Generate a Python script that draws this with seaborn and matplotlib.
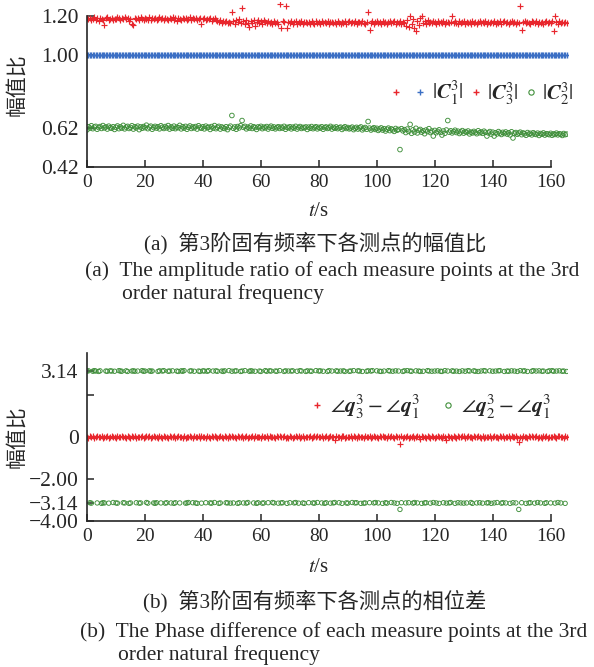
import numpy as np
import pandas as pd
import seaborn as sns
import matplotlib.pyplot as plt
from matplotlib.lines import Line2D

# sample times (s), one sample every 0.5 s
t_s = np.arange(0, 166, 0.5)

# amplitude ratio |C3^3| (red)
c3_ratio = [
    1.188, 1.182, 1.192, 1.179, 1.186, 1.195, 1.181, 1.189, 1.176, 1.191, 1.184, 1.178, 1.152, 1.187, 1.193, 1.180, 1.185, 1.190, 1.177, 1.186,
    1.183, 1.194, 1.188, 1.179, 1.191, 1.185, 1.197, 1.182, 1.189, 1.176, 1.186, 1.157, 1.154, 1.192, 1.183, 1.188, 1.180, 1.195, 1.184, 1.178,
    1.190, 1.186, 1.181, 1.193, 1.177, 1.188, 1.184, 1.191, 1.179, 1.186, 1.196, 1.182, 1.187, 1.180, 1.192, 1.185, 1.178, 1.189, 1.183, 1.194,
    1.181, 1.187, 1.176, 1.190, 1.185, 1.179, 1.192, 1.184, 1.188, 1.177, 1.186, 1.193, 1.180, 1.187, 1.182, 1.190, 1.178, 1.185, 1.189, 1.160,
    1.184, 1.191, 1.179, 1.186, 1.182, 1.188, 1.176, 1.183, 1.190, 1.180, 1.174, 1.169, 1.178, 1.165, 1.172, 1.168, 1.176, 1.163, 1.171, 1.166,
    1.220, 1.174, 1.160, 1.178, 1.168, 1.182, 1.165, 1.240, 1.172, 1.158, 1.180, 1.166, 1.145, 1.175, 1.162, 1.178, 1.150, 1.170, 1.181, 1.164,
    1.173, 1.160, 1.177, 1.168, 1.162, 1.175, 1.166, 1.171, 1.159, 1.176, 1.165, 1.170, 1.161, 1.260, 1.140, 1.173, 1.167, 1.250, 1.140, 1.169,
    1.163, 1.174, 1.158, 1.168, 1.172, 1.161, 1.170, 1.165, 1.176, 1.160, 1.167, 1.171, 1.163, 1.169, 1.158, 1.174, 1.166, 1.161, 1.172, 1.164,
    1.168, 1.159, 1.173, 1.165, 1.170, 1.162, 1.175, 1.160, 1.167, 1.171, 1.163, 1.169, 1.158, 1.174, 1.166, 1.161, 1.170, 1.164, 1.172, 1.160,
    1.167, 1.173, 1.162, 1.169, 1.165, 1.176, 1.159, 1.168, 1.171, 1.163, 1.174, 1.166, 1.160, 1.170, 1.220, 1.130, 1.165, 1.172, 1.161, 1.168,
    1.175, 1.163, 1.169, 1.158, 1.173, 1.166, 1.171, 1.160, 1.168, 1.174, 1.162, 1.167, 1.172, 1.159, 1.170, 1.165, 1.176, 1.161, 1.169, 1.164,
    1.150, 1.178, 1.145, 1.200, 1.160, 1.182, 1.140, 1.120, 1.175, 1.155, 1.188, 1.200, 1.165, 1.172, 1.158, 1.180, 1.166, 1.171, 1.162, 1.174,
    1.168, 1.160, 1.173, 1.165, 1.170, 1.163, 1.176, 1.159, 1.167, 1.171, 1.164, 1.169, 1.200, 1.162, 1.174, 1.166, 1.160, 1.172, 1.165, 1.168,
    1.175, 1.161, 1.170, 1.164, 1.168, 1.158, 1.173, 1.166, 1.171, 1.160, 1.167, 1.174, 1.162, 1.169, 1.165, 1.172, 1.159, 1.168, 1.163, 1.170,
    1.166, 1.173, 1.160, 1.169, 1.164, 1.175, 1.161, 1.168, 1.172, 1.163, 1.170, 1.158, 1.167, 1.174, 1.165, 1.169, 1.160, 1.171, 1.166, 1.250,
    1.125, 1.168, 1.173, 1.162, 1.170, 1.165, 1.159, 1.172, 1.167, 1.163, 1.174, 1.160, 1.169, 1.166, 1.171, 1.161, 1.168, 1.175, 1.163, 1.170,
    1.165, 1.172, 1.120, 1.200, 1.168, 1.161, 1.173, 1.166, 1.170, 1.162, 1.169, 1.165,
]

# amplitude ratio |C2^3| (green)
c2_ratio = [
    0.612, 0.628, 0.621, 0.633, 0.618, 0.626, 0.630, 0.615, 0.624, 0.629, 0.619, 0.634, 0.622, 0.627, 0.616, 0.631, 0.623, 0.620, 0.628, 0.614,
    0.625, 0.632, 0.618, 0.627, 0.621, 0.635, 0.617, 0.626, 0.630, 0.619, 0.624, 0.633, 0.616, 0.628, 0.622, 0.631, 0.613, 0.627, 0.620, 0.629,
    0.623, 0.636, 0.618, 0.626, 0.631, 0.615, 0.624, 0.630, 0.621, 0.628, 0.617, 0.633, 0.625, 0.619, 0.629, 0.622, 0.634, 0.616, 0.627, 0.620,
    0.631, 0.618, 0.626, 0.623, 0.635, 0.617, 0.628, 0.621, 0.630, 0.615, 0.625, 0.632, 0.619, 0.627, 0.622, 0.629, 0.616, 0.633, 0.624, 0.620,
    0.628, 0.617, 0.631, 0.623, 0.626, 0.614, 0.629, 0.621, 0.634, 0.618, 0.625, 0.630, 0.616, 0.627, 0.622, 0.619, 0.628, 0.613, 0.624, 0.631,
    0.686, 0.620, 0.627, 0.615, 0.629, 0.622, 0.633, 0.660, 0.625, 0.630, 0.617, 0.626, 0.621, 0.632, 0.619, 0.628, 0.624, 0.614, 0.627, 0.623,
    0.630, 0.618, 0.626, 0.622, 0.629, 0.616, 0.625, 0.631, 0.620, 0.627, 0.617, 0.624, 0.628, 0.619, 0.626, 0.621, 0.630, 0.615, 0.625, 0.622,
    0.628, 0.617, 0.626, 0.621, 0.630, 0.616, 0.624, 0.629, 0.619, 0.625, 0.622, 0.627, 0.614, 0.626, 0.620, 0.629, 0.618, 0.624, 0.628, 0.617,
    0.625, 0.621, 0.628, 0.615, 0.624, 0.627, 0.619, 0.623, 0.630, 0.616, 0.625, 0.620, 0.627, 0.618, 0.623, 0.626, 0.614, 0.622, 0.628, 0.619,
    0.624, 0.617, 0.621, 0.626, 0.613, 0.620, 0.625, 0.616, 0.622, 0.627, 0.612, 0.619, 0.624, 0.615, 0.655, 0.621, 0.611, 0.618, 0.623, 0.614,
    0.620, 0.609, 0.616, 0.622, 0.611, 0.618, 0.606, 0.615, 0.621, 0.608, 0.617, 0.612, 0.604, 0.619, 0.610, 0.614, 0.510, 0.618, 0.607, 0.613,
    0.598, 0.616, 0.604, 0.640, 0.594, 0.612, 0.601, 0.620, 0.596, 0.609, 0.614, 0.600, 0.607, 0.592, 0.611, 0.603, 0.618, 0.598, 0.606, 0.580,
    0.609, 0.597, 0.604, 0.612, 0.599, 0.585, 0.606, 0.594, 0.611, 0.660, 0.600, 0.607, 0.596, 0.603, 0.610, 0.598, 0.605, 0.593, 0.601, 0.608,
    0.595, 0.603, 0.599, 0.606, 0.591, 0.600, 0.596, 0.604, 0.598, 0.592, 0.607, 0.597, 0.601, 0.594, 0.605, 0.599, 0.580, 0.596, 0.603, 0.590,
    0.600, 0.580, 0.597, 0.591, 0.603, 0.595, 0.588, 0.599, 0.593, 0.601, 0.590, 0.597, 0.586, 0.602, 0.570, 0.594, 0.598, 0.589, 0.595, 0.600,
    0.587, 0.596, 0.592, 0.584, 0.598, 0.590, 0.594, 0.586, 0.597, 0.591, 0.588, 0.595, 0.583, 0.593, 0.589, 0.596, 0.585, 0.592, 0.590, 0.587,
    0.594, 0.584, 0.591, 0.588, 0.595, 0.586, 0.592, 0.589, 0.583, 0.593, 0.587, 0.590,
]

# |C1^3| is the reference point, ratio 1.00 throughout
c1_ratio = [1.00] * len(t_s)

# phase difference angle(q3) - angle(q1) (red)
phase_31 = [
    0.02, -0.03, 0.05, -0.01, 0.03, -0.04, 0.01, 0.04, -0.02, 0.00, 0.03, -0.05, 0.02, -0.01, 0.04, -0.03, 0.01, 0.05, -0.02, 0.02,
    -0.04, 0.03, 0.00, -0.02, 0.05, -0.01, 0.02, -0.05, 0.04, 0.01, -0.03, 0.03, -0.01, 0.05, -0.04, 0.02, 0.00, -0.02, 0.04, -0.03,
    0.01, 0.05, -0.02, 0.03, -0.05, 0.02, 0.04, -0.01, 0.00, -0.04, 0.03, 0.01, -0.03, 0.05, -0.02, 0.02, -0.05, 0.04, 0.00, -0.01,
    0.03, -0.04, 0.02, 0.05, -0.02, 0.01, -0.03, 0.04, -0.05, 0.02, 0.00, 0.03, -0.01, -0.04, 0.05, 0.01, -0.02, 0.03, -0.03, 0.04,
    -0.01, 0.02, -0.05, 0.04, 0.01, -0.03, 0.05, -0.02, 0.03, 0.00, -0.04, 0.02, 0.04, -0.01, -0.03, 0.05, 0.01, -0.05, 0.03, -0.02,
    0.04, -0.01, 0.02, -0.04, 0.05, 0.00, -0.02, 0.03, -0.05, 0.01, 0.04, -0.03, 0.02, -0.01, 0.05, -0.04, 0.03, 0.00, -0.02, 0.01,
    -0.03, 0.05, 0.01, -0.02, 0.03, -0.05, 0.04, 0.00, -0.01, 0.02, -0.04, 0.03, -0.01, 0.05, -0.02, 0.01, 0.04, -0.03, 0.02, -0.05,
    0.03, 0.00, -0.04, 0.02, 0.05, -0.01, 0.03, -0.03, 0.01, 0.04, -0.05, 0.02, 0.00, -0.02, 0.04, -0.04, 0.01, 0.03, -0.01, 0.05,
    -0.02, 0.02, 0.04, -0.05, 0.01, 0.03, -0.03, 0.00, 0.05, -0.01, 0.02, -0.12, 0.04, -0.02, 0.01, -0.04, 0.03, 0.05, -0.03, 0.00,
    0.02, -0.01, 0.04, -0.04, 0.03, 0.01, -0.05, 0.05, -0.02, 0.02, 0.00, -0.03, 0.04, 0.01, -0.01, 0.03, -0.05, 0.02, 0.05, -0.02,
    0.01, -0.04, 0.03, 0.00, 0.05, -0.02, 0.02, -0.05, 0.04, -0.01, 0.03, 0.01, -0.03, 0.05, -0.02, 0.00, -0.33, 0.04, -0.04, 0.02,
    -0.01, 0.05, -0.03, 0.02, 0.00, 0.04, -0.05, 0.01, 0.03, -0.02, -0.09, 0.04, -0.01, 0.02, -0.04, 0.05, 0.00, -0.03, 0.03, 0.01,
    -0.05, 0.02, 0.04, -0.02, 0.01, -0.04, 0.05, 0.00, -0.13, 0.03, -0.01, 0.02, -0.03, 0.04, 0.01, -0.05, 0.05, -0.02, 0.00, 0.03,
    0.04, -0.03, 0.01, 0.05, -0.01, 0.02, -0.04, 0.03, 0.00, -0.02, 0.05, 0.01, -0.05, 0.04, -0.03, 0.02, 0.00, -0.01, 0.03, -0.04,
    0.02, 0.05, -0.02, 0.01, -0.04, 0.03, 0.00, 0.04, -0.05, 0.02, -0.01, 0.03, -0.03, 0.05, 0.01, -0.02, 0.04, -0.04, -0.22, 0.01,
    -0.03, 0.04, 0.00, 0.02, -0.05, 0.05, -0.01, 0.03, -0.02, 0.01, 0.04, -0.04, 0.02, 0.00, -0.03, 0.05, -0.01, 0.03, -0.05, 0.02,
    0.01, -0.02, 0.04, 0.00, -0.04, 0.03, 0.05, -0.01, 0.02, -0.03, 0.04, 0.00,
]

# phase difference angle(q2) - angle(q1) (green), wraps around +-pi
phase_21 = [
    3.14, 3.15, -3.13, -3.15, 3.13, 3.16, 3.14, -3.14, 3.12, 3.15, -3.16, -3.13, -3.14, 3.14, 3.13, -3.15, 3.15, 3.14, -3.12, 3.13,
    -3.14, -3.15, 3.16, 3.14, 3.13, -3.13, -3.14, 3.15, 3.12, -3.16, -3.14, 3.14, 3.15, 3.13, -3.13, 3.14, -3.15, -3.14, 3.16, 3.13,
    3.14, -3.12, -3.15, 3.15, 3.13, 3.14, -3.14, -3.16, -3.13, 3.12, 3.15, -3.14, 3.14, 3.16, -3.15, -3.13, 3.13, 3.14, -3.14, 3.15,
    -3.16, -3.13, 3.14, 3.12, -3.14, 3.15, 3.13, 3.16, -3.15, -3.14, -3.12, 3.14, 3.15, -3.13, 3.13, -3.14, -3.16, 3.14, 3.12, -3.15,
    3.15, 3.14, -3.13, 3.13, 3.16, -3.14, -3.15, 3.14, -3.12, 3.15, 3.13, -3.16, -3.14, 3.14, 3.12, 3.15, -3.13, -3.14, 3.16, -3.15,
    3.13, -3.14, 3.14, 3.15, -3.16, -3.13, 3.12, 3.14, -3.14, 3.16, -3.15, -3.12, 3.13, 3.15, 3.14, -3.14, 3.13, -3.16, -3.13, 3.14,
    3.12, -3.15, -3.14, 3.16, 3.13, -3.13, 3.15, 3.14, -3.12, -3.14, 3.14, 3.13, -3.15, 3.16, -3.14, -3.13, 3.12, 3.15, -3.16, 3.14,
    -3.13, 3.14, 3.15, -3.14, -3.12, 3.13, -3.15, 3.16, 3.14, -3.14, -3.16, 3.12, 3.15, -3.13, 3.14, 3.13, -3.14, -3.15, 3.16, -3.12,
    3.14, 3.15, -3.14, 3.13, -3.16, -3.13, 3.12, 3.16, -3.15, 3.14, -3.14, -3.12, 3.15, 3.13, -3.13, 3.14, -3.16, 3.15, 3.12, -3.14,
    -3.15, 3.13, 3.14, -3.12, 3.16, -3.14, -3.13, 3.15, 3.14, -3.16, 3.12, -3.15, -3.14, 3.13, 3.15, -3.13, 3.14, 3.16, -3.14, -3.12,
    3.15, -3.14, 3.13, 3.12, -3.16, 3.14, -3.13, -3.15, 3.16, 3.14, -3.12, 3.13, -3.14, 3.15, -3.16, 3.14, -3.45, -3.13, 3.12, 3.15,
    -3.14, 3.16, -3.13, 3.14, 3.13, -3.15, -3.12, 3.15, -3.14, 3.14, 3.12, -3.16, 3.13, -3.14, -3.13, 3.16, 3.14, -3.15, 3.13, -3.12,
    3.14, -3.14, 3.15, -3.16, 3.13, 3.12, -3.13, 3.16, -3.15, 3.14, -3.14, -3.12, 3.15, 3.13, -3.16, 3.14, -3.13, 3.12, -3.14, 3.15,
    -3.15, 3.13, -3.14, 3.16, 3.14, -3.12, -3.16, 3.15, 3.13, -3.14, 3.12, -3.13, 3.14, -3.15, 3.16, 3.14, -3.14, -3.13, 3.15, -3.16,
    3.13, -3.14, 3.14, -3.12, 3.15, 3.16, -3.15, -3.13, 3.12, -3.14, 3.14, 3.13, -3.16, 3.15, -3.13, 3.14, -3.14, 3.12, -3.45, 3.16,
    -3.13, 3.14, 3.15, -3.16, 3.12, -3.14, -3.13, 3.13, 3.16, -3.15, 3.14, -3.12, 3.15, -3.14, 3.13, 3.14, -3.16, -3.13, 3.12, 3.15,
    -3.14, 3.16, 3.13, -3.15, 3.14, -3.12, 3.15, -3.14, 3.13, 3.14, -3.16, 3.12,
]

amp_ticks = [0.42, 0.62, 1.00, 1.20]
amp_labels = ["0.42", "0.62", "1.00", "1.20"]
phase_ticks = [-4.00, -3.14, -2.00, 0, 2.00, 3.14]
phase_labels = ["\u22124.00", "\u22123.14", "\u22122.00", "0", "", "3.14"]
time_ticks = list(range(0, 161, 20))

red = "#e8262d"
blue = "#3b6fc4"
green = "#3f8f3a"

amp = pd.DataFrame({"t": t_s, "c1": c1_ratio, "c2": c2_ratio, "c3": c3_ratio})
phase = pd.DataFrame({"t": t_s, "p31": phase_31, "p21": phase_21})

sns.set_style("ticks")
plt.rcParams["font.family"] = ["Liberation Serif", "Noto Sans CJK SC"]
plt.rcParams["mathtext.fontset"] = "stix"
plt.rcParams["axes.linewidth"] = 1.2

fig = plt.figure(figsize=(5.94, 6.67), dpi=100)
ax1 = fig.add_axes([0.1465, 0.7496, 0.8098, 0.2468])
ax2 = fig.add_axes([0.1465, 0.2189, 0.8098, 0.2519])

# top panel: amplitude ratios
sns.scatterplot(data=amp, x="t", y="c1", marker="+", color=blue, s=16, linewidth=1.0, ax=ax1)
sns.scatterplot(data=amp, x="t", y="c2", marker="o", color=green, facecolor="none",
                edgecolor=green, s=11, linewidth=0.65, ax=ax1)
sns.scatterplot(data=amp, x="t", y="c3", marker="+", color=red, s=14, linewidth=0.85, ax=ax1)

# bottom panel: phase differences
sns.scatterplot(data=phase, x="t", y="p21", marker="o", color=green, facecolor="none",
                edgecolor=green, s=10, linewidth=0.65, ax=ax2)
sns.scatterplot(data=phase, x="t", y="p31", marker="+", color=red, s=14, linewidth=0.85, ax=ax2)

for ax in (ax1, ax2):
    ax.set_xlim(0, 166)
    ax.set_xticks(time_ticks)
    ax.spines["top"].set_visible(False)
    ax.spines["right"].set_visible(False)
    ax.spines["bottom"].set_bounds(0, 160)
    ax.tick_params(axis="x", direction="in", length=5, width=1.1, labelsize=14, pad=5)
    ax.tick_params(axis="y", direction="in", length=5, width=1.1, labelsize=15.5, pad=6)
    ax.set_xlabel(r"$t$/s", fontsize=15)
    ax.set_ylabel("幅值比", fontsize=15)
    ax.xaxis.set_label_coords(0.482, -0.27)
    ax.xaxis.label.set_va("center")
    ax.yaxis.set_label_coords(-0.125, 0.5)

ax1.set_ylim(0.42, 1.27)
ax1.set_yticks(amp_ticks)
ax1.set_yticklabels(amp_labels)
ax1.spines["left"].set_bounds(0.42, 1.20)

ax2.set_ylim(-4.0, 4.0)
ax2.set_yticks(phase_ticks)
ax2.set_yticklabels(phase_labels)
ax2.xaxis.set_label_coords(0.482, -0.275)

# legends
h_red = Line2D([], [], ls="none", marker="+", color=red, ms=4.5, mew=1.0)
h_blue = Line2D([], [], ls="none", marker="+", color=blue, ms=4.5, mew=1.0)
h_green = Line2D([], [], ls="none", marker="o", mfc="none", mec=green, ms=3.8, mew=0.8)
ax1.legend([h_red, h_blue, h_red, h_green],
           ["", r"$|\boldsymbol{C}^{3}_{1}|$", r"$|\boldsymbol{C}^{3}_{3}|$", r"$|\boldsymbol{C}^{3}_{2}|$"],
           ncol=4, loc="center left", bbox_to_anchor=(0.63, 0.45), frameon=False, fontsize=15,
           handlelength=0.6, handletextpad=0.25, columnspacing=0.3, borderpad=0, borderaxespad=0)
ax2.legend([h_red, h_green],
           [r"$\angle\boldsymbol{q}^{3}_{3}-\angle\boldsymbol{q}^{3}_{1}$",
            r"$\angle\boldsymbol{q}^{3}_{2}-\angle\boldsymbol{q}^{3}_{1}$"],
           ncol=2, loc="center left", bbox_to_anchor=(0.465, 0.68), frameon=False, fontsize=15.5,
           handlelength=0.6, handletextpad=0.3, columnspacing=1.0, borderpad=0, borderaxespad=0)

# captions
fig.text(0.53, 1 - 243 / 667, "(a)  第3阶固有频率下各测点的幅值比", ha="center", va="center", fontsize=15.3)
fig.text(85 / 594, 1 - 271 / 667, "(a)  The amplitude ratio of each measure points at the 3rd",
         ha="left", va="center", fontsize=15.5)
fig.text(122 / 594, 1 - 294 / 667, "order natural frequency", ha="left", va="center", fontsize=15.5)
fig.text(0.53, 1 - 601 / 667, "(b)  第3阶固有频率下各测点的相位差", ha="center", va="center", fontsize=15.3)
fig.text(80 / 594, 1 - 632 / 667, "(b)  The Phase difference of each measure points at the 3rd",
         ha="left", va="center", fontsize=15.5)
fig.text(118 / 594, 1 - 655 / 667, "order natural frequency", ha="left", va="center", fontsize=15.5)

plt.savefig("out.png", dpi=100)
plt.close()
